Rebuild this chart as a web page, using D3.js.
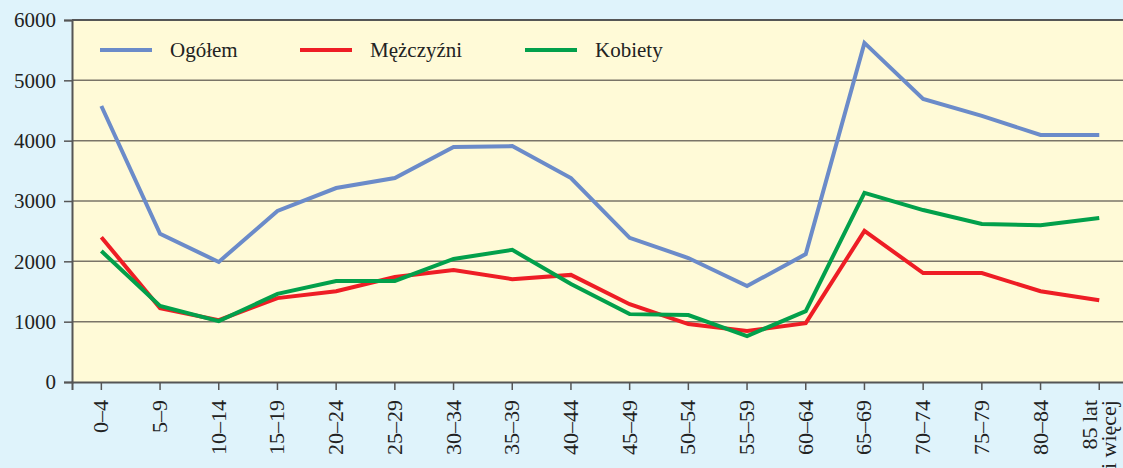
<!DOCTYPE html>
<html>
<head>
<meta charset="utf-8">
<script src="https://cdn.jsdelivr.net/npm/d3@7"></script>
<style>
  body { margin: 0; background: #dff3fb; overflow: hidden; }
  svg { display: block; }
  svg text { font-family: "Liberation Serif", "DejaVu Serif", serif; }
</style>
</head>
<body>
<div id="chart"></div>
<script>
const ageGroups = ["0–4", "5–9", "10–14", "15–19", "20–24", "25–29", "30–34", "35–39", "40–44",
  "45–49", "50–54", "55–59", "60–64", "65–69", "70–74", "75–79", "80–84", "85 lat|i więcej"];
const ogolem = [4575, 2455, 1990, 2835, 3215, 3380, 3895, 3910, 3380, 2390, 2055, 1590, 2120, 5620, 4690, 4410, 4095, 4095];
const mezczyzni = [2400, 1225, 1025, 1390, 1505, 1740, 1855, 1705, 1775, 1290, 960, 845, 975, 2505, 1805, 1805, 1505, 1355];
const kobiety = [2170, 1260, 1010, 1460, 1675, 1675, 2040, 2190, 1625, 1125, 1110, 760, 1175, 3135, 2850, 2620, 2600, 2720];
const yTicks = [0, 1000, 2000, 3000, 4000, 5000, 6000];

const series = [
  { name: "Ogółem", values: ogolem, color: "#6b8bc9" },
  { name: "Mężczyźni", values: mezczyzni, color: "#ee1d25" },
  { name: "Kobiety", values: kobiety, color: "#02a04b" }
];

const width = 1123, height = 468;
const margin = { top: 20, right: 0, bottom: 86, left: 72 };

const svg = d3.select("#chart").append("svg")
  .attr("width", width)
  .attr("height", height);

const x = d3.scaleBand()
  .domain(ageGroups)
  .range([margin.left, margin.left + 58.7 * ageGroups.length]);

const y = d3.scaleLinear()
  .domain([0, 6000])
  .range([height - margin.bottom, margin.top]);

// plot background
svg.append("rect")
  .attr("x", margin.left)
  .attr("y", margin.top)
  .attr("width", width - margin.left)
  .attr("height", y(0) - margin.top)
  .attr("fill", "#fffad7");

// grid
svg.append("g")
  .selectAll("line")
  .data(yTicks.slice(1))
  .join("line")
  .attr("x1", margin.left)
  .attr("x2", width)
  .attr("y1", d => y(d))
  .attr("y2", d => y(d))
  .attr("stroke", d => d === 6000 ? "#555" : "#7a7468")
  .attr("stroke-width", d => d === 6000 ? 2 : 1.5);

// y axis
const yAxis = svg.append("g")
  .attr("transform", `translate(${margin.left},0)`)
  .call(d3.axisLeft(y).tickValues(yTicks).tickSize(8).tickPadding(8).tickFormat(d3.format("d")));
yAxis.select(".domain").attr("stroke", "#555").attr("stroke-width", 2);
yAxis.selectAll(".tick line").attr("stroke", "#555").attr("stroke-width", 1.5);
yAxis.selectAll("text").attr("font-size", 21).attr("fill", "#222");

// x axis
const xAxis = svg.append("g")
  .attr("transform", `translate(0,${y(0)})`)
  .call(d3.axisBottom(x).tickSize(8).tickFormat(""));
xAxis.select(".domain").attr("stroke", "#555").attr("stroke-width", 2);
xAxis.selectAll(".tick line").attr("stroke", "#555").attr("stroke-width", 1.5);

const labels = svg.append("g")
  .selectAll("text")
  .data(ageGroups)
  .join("text")
  .attr("transform", d => `translate(${x(d) + x.bandwidth() / 2},${y(0) + 18}) rotate(-90)`)
  .attr("text-anchor", "end")
  .attr("font-size", 22)
  .attr("fill", "#222");
labels.each(function (d) {
  const parts = d.split("|");
  const t = d3.select(this);
  parts.forEach((p, i) => {
    t.append("tspan")
      .attr("x", 0)
      .attr("dy", i === 0 ? (parts.length > 1 ? -2 : 7) : 19)
      .text(p);
  });
});

// lines
const line = d3.line()
  .x((d, i) => x(ageGroups[i]) + x.bandwidth() / 2)
  .y(d => y(d));

svg.append("g")
  .selectAll("path")
  .data(series)
  .join("path")
  .attr("d", d => line(d.values))
  .attr("fill", "none")
  .attr("stroke", d => d.color)
  .attr("stroke-width", 4)
  .attr("stroke-linejoin", "miter");

// legend
const legend = svg.append("g")
  .selectAll("g")
  .data(series)
  .join("g")
  .attr("transform", (d, i) => `translate(${[100, 300, 525][i]},50)`);
legend.append("line")
  .attr("x1", 0).attr("x2", 52)
  .attr("stroke", d => d.color)
  .attr("stroke-width", 4);
legend.append("text")
  .attr("x", 70)
  .attr("dy", "0.33em")
  .attr("font-size", 21)
  .attr("fill", "#222")
  .text(d => d.name);
</script>
</body>
</html>
